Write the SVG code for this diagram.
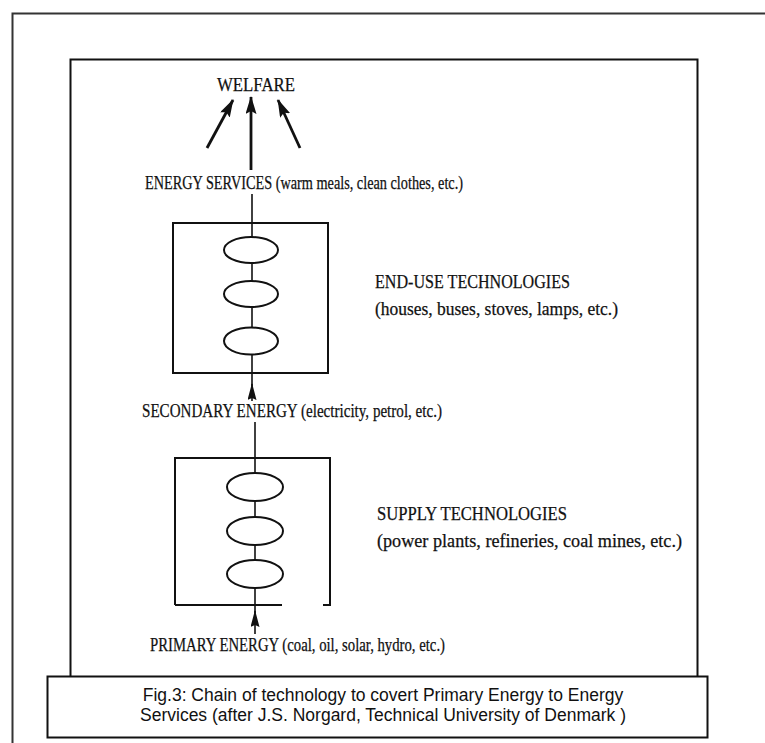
<svg xmlns="http://www.w3.org/2000/svg" width="765" height="743" viewBox="0 0 765 743">
<style>
.t{font-family:"Liberation Serif","Times New Roman",serif;font-size:19px;fill:#111;stroke:#111;stroke-width:0.25}
.cap{font-family:"Liberation Sans",Arial,sans-serif;font-size:17.5px;fill:#111;text-anchor:middle}
.box{fill:none;stroke:#111;stroke-width:2}
.ell{fill:#fff;stroke:#111;stroke-width:2}
.ln{fill:none;stroke:#111;stroke-width:1.6}
.big{fill:none;stroke:#111;stroke-width:2.8}
</style>
<defs>
<marker id="ahBig" viewBox="0 0 18 11" refX="17" refY="5.5" markerWidth="18" markerHeight="11" markerUnits="userSpaceOnUse" orient="auto">
<path d="M0,0 L18,5.5 L0,11 L3,5.5 Z" fill="#111"/>
</marker>
<marker id="ahSmall" viewBox="0 0 17 9" refX="16" refY="4.5" markerWidth="17" markerHeight="9" markerUnits="userSpaceOnUse" orient="auto">
<path d="M0,0 L17,4.5 L0,9 L2,4.5 Z" fill="#111"/>
</marker>
</defs>
<rect width="765" height="743" fill="#fff"/>
<g id="frame">
<path d="M12.5,743 V13.5 H765" fill="none" stroke="#333" stroke-width="2"/>
<path d="M70.5,677 V59.5 H697.5 V677" fill="none" stroke="#111" stroke-width="2"/>
</g>
<g id="connectors">
<path class="big" d="M207,148 L233,100" marker-end="url(#ahBig)"/>
<path class="big" d="M251,170 L251,97" marker-end="url(#ahBig)"/>
<path class="big" d="M300,148 L278,100" marker-end="url(#ahBig)"/>
<path class="ln" d="M252,194 V237"/>
<path class="ln" d="M252,263 V281"/>
<path class="ln" d="M252,307 V328"/>
<path class="ln" d="M252,355 V386"/>
<path class="ln" d="M252,401 L252,384" marker-end="url(#ahSmall)"/>
<path class="ln" d="M255,422 V473"/>
<path class="ln" d="M255,501 V517"/>
<path class="ln" d="M255,545 V560"/>
<path class="ln" d="M255,588 V613"/>
<path class="ln" d="M255,634 L255,611" marker-end="url(#ahSmall)"/>
</g>
<g id="welfare"><text class="t" x="217" y="91" textLength="78" lengthAdjust="spacingAndGlyphs">WELFARE</text></g>
<g id="energy-services"><text class="t" x="145" y="189" textLength="318" lengthAdjust="spacingAndGlyphs">ENERGY SERVICES (warm meals, clean clothes, etc.)</text></g>
<g id="end-use-technologies">
<rect class="box" x="173" y="223" width="155" height="150"/>
<ellipse class="ell" cx="251" cy="250" rx="27" ry="13"/>
<ellipse class="ell" cx="251" cy="294" rx="27" ry="13"/>
<ellipse class="ell" cx="251" cy="341" rx="27" ry="13.5"/>
</g>
<g id="end-use-label">
<text class="t" x="375" y="288" textLength="195" lengthAdjust="spacingAndGlyphs">END-USE TECHNOLOGIES</text>
<text class="t" x="375" y="315" textLength="243" lengthAdjust="spacingAndGlyphs">(houses, buses, stoves, lamps, etc.)</text>
</g>
<g id="secondary-energy"><text class="t" x="142" y="417" textLength="300" lengthAdjust="spacingAndGlyphs">SECONDARY ENERGY (electricity, petrol, etc.)</text></g>
<g id="supply-technologies">
<path class="box" d="M175,605 V458 H330 V605 H323"/>
<path class="box" d="M175,605 H282"/>
<ellipse class="ell" cx="255" cy="487" rx="28" ry="14"/>
<ellipse class="ell" cx="255" cy="531" rx="28" ry="14"/>
<ellipse class="ell" cx="255" cy="574" rx="28" ry="14"/>
</g>
<g id="supply-label">
<text class="t" x="377" y="520" textLength="190" lengthAdjust="spacingAndGlyphs">SUPPLY TECHNOLOGIES</text>
<text class="t" x="377" y="547" textLength="305" lengthAdjust="spacingAndGlyphs">(power plants, refineries, coal mines, etc.)</text>
</g>
<g id="primary-energy"><text class="t" x="150" y="651" textLength="295" lengthAdjust="spacingAndGlyphs">PRIMARY ENERGY (coal, oil, solar, hydro, etc.)</text></g>
<g id="caption">
<rect x="47.5" y="676.5" width="660" height="61" fill="#fff" stroke="#111" stroke-width="2"/>
<text class="cap" x="383" y="701">Fig.3: Chain of technology to covert Primary Energy to Energy</text>
<text class="cap" x="383" y="721">Services (after J.S. Norgard, Technical University of Denmark )</text>
</g>
</svg>
